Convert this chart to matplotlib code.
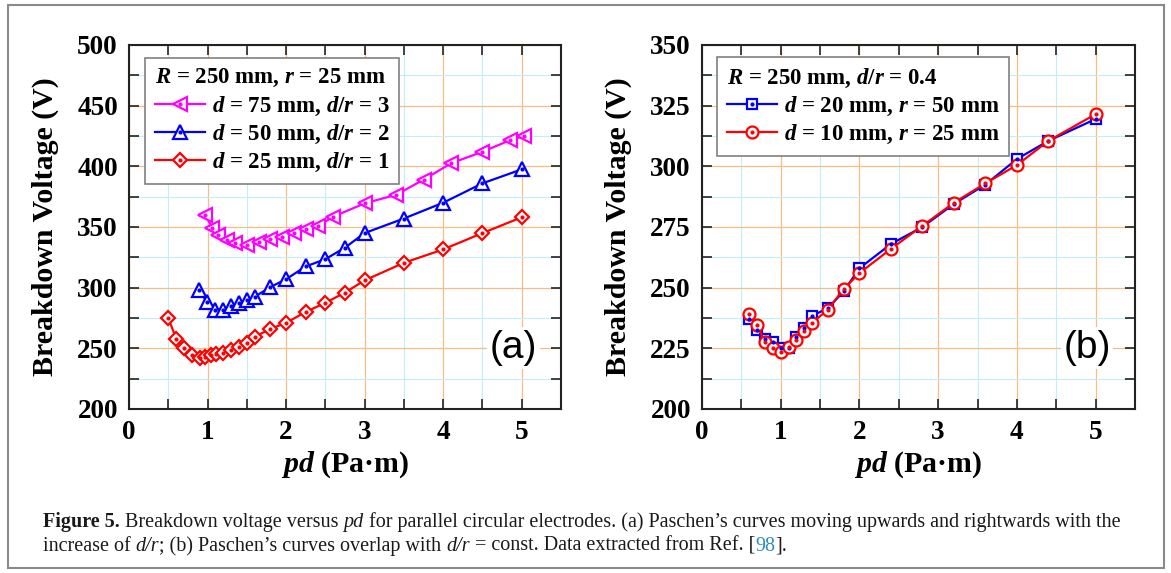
import matplotlib
matplotlib.use('Agg')
import matplotlib.pyplot as plt
from matplotlib.ticker import MultipleLocator
from matplotlib.legend_handler import HandlerTuple
from matplotlib.patches import Rectangle
from matplotlib.font_manager import FontProperties

plt.rcParams['font.family'] = ['Liberation Serif', 'DejaVu Serif']
plt.rcParams['font.weight'] = 'bold'
plt.rcParams['axes.labelweight'] = 'bold'
plt.rcParams['mathtext.fontset'] = 'custom'
plt.rcParams['mathtext.rm'] = 'Liberation Serif:bold'
plt.rcParams['mathtext.it'] = 'Liberation Serif:italic:bold'
plt.rcParams['mathtext.bf'] = 'Liberation Serif:bold'

# ---------------- data ----------------
# panel (a): R = 250 mm, r = 25 mm
pd_a75 = [0.97, 1.06, 1.13, 1.25, 1.35, 1.5, 1.65, 1.8, 1.95, 2.1, 2.25, 2.4, 2.6,
          3.0, 3.4, 3.75, 4.1, 4.5, 4.85, 5.03]
v_a75 = [360, 349.5, 343.5, 339.5, 336.5, 335, 338, 340.5, 342, 345, 348.5, 350.5,
         358.5, 369.5, 376.5, 389, 402.5, 412, 421.5, 425]

pd_a50 = [0.89, 0.99, 1.1, 1.2, 1.3, 1.4, 1.5, 1.6, 1.8, 2.0, 2.25, 2.5, 2.75, 3.0,
          3.5, 4.0, 4.5, 5.0]
v_a50 = [298, 288.5, 281.5, 281.5, 284.5, 287, 290, 292.5, 300.5, 307, 317.5, 323.5,
         333, 345, 357, 370, 386, 397.5]

pd_a25 = [0.5, 0.6, 0.7, 0.8, 0.9, 0.97, 1.04, 1.11, 1.2, 1.3, 1.4, 1.5, 1.6, 1.8,
          2.0, 2.25, 2.5, 2.75, 3.0, 3.5, 4.0, 4.5, 5.0]
v_a25 = [275, 258, 250, 244.5, 242, 242.5, 244.5, 245.5, 246.5, 248.5, 251, 254.5,
         259.5, 266, 271, 280, 287.5, 296, 306, 320.5, 331.5, 345, 358]

# panel (b): R = 250 mm, d/r = 0.4
pd_b = [0.6, 0.7, 0.8, 0.9, 1.0, 1.1, 1.2, 1.3, 1.4, 1.6, 1.8, 2.0, 2.4, 2.8, 3.2,
        3.6, 4.0, 4.4, 5.0]
v_b20 = [237, 232.5, 229, 227.5, 225, 225, 229.5, 233.5, 238.5, 241.5, 248.5, 258,
         268, 275, 284.5, 292.5, 303, 310.5, 319.5]
v_b10 = [239, 234.5, 227.5, 225, 223.5, 225.5, 228.5, 232, 235.5, 241, 249.5, 256,
         266, 275.5, 285, 293, 300.5, 310.5, 321.5]

labels_a = [r'$d$ = 75 mm, $d/r$ = 3', r'$d$ = 50 mm, $d/r$ = 2', r'$d$ = 25 mm, $d/r$ = 1']
title_a = r'$R$ = 250 mm, $r$ = 25 mm'
labels_b = [r'$d$ = 20 mm, $r$ = 50 mm', r'$d$ = 10 mm, $r$ = 25 mm']
title_b = r'$R$ = 250 mm, $d/r$ = 0.4'
xlabel = r'$pd$ (Pa·m)'
ylabel = 'Breakdown Voltage (V)'

MAGENTA, BLUE, RED = '#FF00FF', '#0000FF', '#FF0000'
ORANGE, CYAN = '#F6BE86', '#C4EEF6'

W, H = 1171, 573
fig = plt.figure(figsize=(W / 100, H / 100), dpi=100)


def rect(l, t, r, b):
    return [l / W, 1 - b / H, (r - l) / W, (b - t) / H]


axA = fig.add_axes(rect(129, 45, 561, 409))
axB = fig.add_axes(rect(702, 45, 1135, 409))


def style(ax, ylim, ymaj, ymin):
    ax.set_xlim(0, 5.5)
    ax.set_ylim(*ylim)
    ax.xaxis.set_major_locator(MultipleLocator(1))
    ax.xaxis.set_minor_locator(MultipleLocator(0.5))
    ax.yaxis.set_major_locator(MultipleLocator(ymaj))
    ax.yaxis.set_minor_locator(MultipleLocator(ymin))
    ax.grid(which='major', color=ORANGE, lw=0.9)
    ax.grid(which='minor', color=CYAN, lw=0.8)
    ax.set_axisbelow(True)
    ax.tick_params(which='both', direction='in', top=True, right=True,
                   width=1.2, color='#222222')
    ax.tick_params(which='major', length=7.5, pad=8, labelsize=19.5)
    ax.tick_params(which='minor', length=7)
    for s in ax.spines.values():
        s.set_linewidth(1.5)
        s.set_color('#222222')
    ax.set_ylabel(ylabel, fontsize=21.5, fontweight='bold')
    ax.set_xlabel(xlabel, fontsize=21.5, fontweight='bold')
    ax.yaxis.set_label_coords(-0.194, 0.5)
    ax.yaxis.label.set_va('center')
    ax.xaxis.set_label_coords(0.5, -0.154)
    ax.xaxis.label.set_va('center')


def series(ax, x, y, color, marker, ms):
    ln, = ax.plot(x, y, color=color, lw=1.6, marker=marker, ms=ms, mfc='white',
                  mec=color, mew=1.6, zorder=3)
    dt, = ax.plot(x, y, ls='none', marker='o', ms=2.0, color=color, zorder=4)
    return (ln, dt)


style(axA, (200, 500), 50, 25)
style(axB, (200, 350), 25, 12.5)

hA = [series(axA, pd_a75, v_a75, MAGENTA, '<', 9.5),
      series(axA, pd_a50, v_a50, BLUE, '^', 9.5),
      series(axA, pd_a25, v_a25, RED, 'D', 6.8)]
hB = [series(axB, pd_b, v_b20, BLUE, 's', 7.2),
      series(axB, pd_b, v_b10, RED, 'o', 8.6)]


def legend(ax, handles, labels, title, anchor):
    fp = dict(family='Liberation Serif', weight='bold', size=16.5)
    leg = ax.legend(handles, labels, title=title, loc='upper left',
                    bbox_to_anchor=anchor, borderaxespad=0, frameon=True,
                    fancybox=False, edgecolor='#808080', framealpha=1,
                    prop=fp, title_fontproperties=fp, alignment='left',
                    handlelength=2.2, handletextpad=0.3, labelspacing=0.23,
                    borderpad=0.42, numpoints=1,
                    handler_map={tuple: HandlerTuple(ndivide=1)})
    leg.get_frame().set_linewidth(1.2)
    leg.set_zorder(10)


legend(axA, hA, labels_a, title_a, (0.037, 0.965))
legend(axB, hB, labels_b, title_b, (0.035, 0.967))

for ax, s in ((axA, '(a)'), (axB, '(b)')):
    ax.text(0.944, 0.168, s, transform=ax.transAxes, ha='right', va='center',
            fontsize=28, family='Liberation Sans', fontweight='normal',
            bbox=dict(facecolor='white', edgecolor='none', pad=2), zorder=5)

# outer frame
fig.add_artist(Rectangle((8 / W, 1 - 568 / H), (1164 - 8) / W, (568 - 5) / H,
                         transform=fig.transFigure, fill=False,
                         edgecolor='#8a8a8a', lw=1.5))

# caption
REG = dict(family='Liberation Serif', weight='normal', style='normal')
BLD = dict(family='Liberation Serif', weight='bold', style='normal')
ITA = dict(family='Liberation Serif', weight='normal', style='italic')
LINK = dict(REG, color='#2E8BC0')
line1 = [('Figure 5.', BLD), (' Breakdown voltage versus ', REG), ('pd', ITA),
         (' for parallel circular electrodes. (a) Paschen’s curves moving upwards '
          'and rightwards with the', REG)]
line2 = [('increase of ', REG), ('d/r', ITA),
         ('; (b) Paschen’s curves overlap with ', REG), ('d/r', ITA),
         (' = const. Data extracted from Ref. [', REG), ('98', LINK), ('].', REG)]

renderer = fig.canvas.get_renderer()


def advance(txt, kw, size):
    fp = FontProperties(family=kw['family'], weight=kw['weight'],
                        style=kw['style'], size=size)
    w1, _, _ = renderer.get_text_width_height_descent('|' + txt + '|', fp, False)
    w0, _, _ = renderer.get_text_width_height_descent('||', fp, False)
    return w1 - w0


def draw_line(pieces, x0, y0, size):
    x = x0
    for txt, kw in pieces:
        fig.text(x / W, 1 - y0 / H, txt, fontsize=size, va='baseline', ha='left',
                 family=kw['family'], fontweight=kw['weight'], fontstyle=kw['style'],
                 color=kw.get('color', '#1a1a1a'))
        x += advance(txt, kw, size)


base = 12.0
w_line1 = sum(advance(t, k, base) for t, k in line1)
csize = base * 1075 / w_line1
draw_line(line1, 43, 527, csize)
draw_line(line2, 43, 551, csize)

fig.savefig('out.png', dpi=100)
